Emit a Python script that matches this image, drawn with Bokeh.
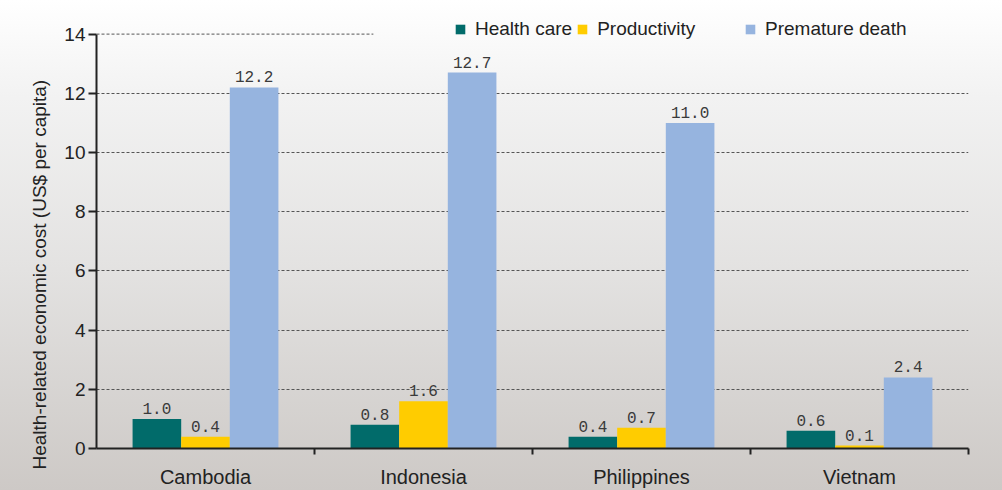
import math
from bokeh.plotting import figure
from bokeh.models import (ColumnDataSource, Range1d, FixedTicker, LabelSet, Title,
                          Legend, LegendItem)
from bokeh.core.properties import value
from bokeh.embed import file_html
from bokeh.resources import INLINE

# Health-related economic cost per capita (US$)
countries = ["Cambodia", "Indonesia", "Philippines", "Vietnam"]
health_care = [1.0, 0.8, 0.4, 0.6]
productivity = [0.4, 1.6, 0.7, 0.1]
premature_death = [12.2, 12.7, 11.0, 2.4]
y_ticks = [0, 2, 4, 6, 8, 10, 12, 14]

series = [
    ("Health care", health_care, "#016B6A", -1),
    ("Productivity", productivity, "#FFCC00", 0),
    ("Premature death", premature_death, "#96B4DF", 1),
]

FONT = "Liberation Sans"
BAR_W = 0.223
centers = [i + 0.5 for i in range(len(countries))]

# the frame reaches the top edge so the legend can sit above the last gridline
Y_MAX = y_ticks[-1]
Y_TOP = Y_MAX * 453 / 419

p = figure(width=1002, height=490, output_backend="svg", toolbar_location=None,
           x_range=Range1d(0, len(countries)), y_range=Range1d(0, Y_TOP),
           min_border_left=96, min_border_right=34, min_border_top=0,
           min_border_bottom=37)
p.outline_line_color = None
p.background_fill_alpha = 0
p.border_fill_alpha = 0
p.styles = {"background": "linear-gradient(to bottom, #ffffff 0%, #f2f2f2 20%, "
                          "#e3e2e1 55%, #cdc9c6 100%)"}

renderers = {}
for name, vals, color, k in series:
    src = ColumnDataSource(dict(
        x=[c + k * BAR_W for c in centers],
        top=vals,
        label=[f"{v:.1f}" for v in vals],
    ))
    r = p.vbar(x="x", top="top", width=BAR_W, source=src, fill_color=color,
               line_color=None)
    renderers[name] = r
    p.add_layout(LabelSet(x="x", y="top", text="label", source=src,
                          text_align="center", text_baseline="bottom",
                          y_offset=5, text_font=value("Liberation Mono"),
                          text_font_size="16px", text_color="#3a3a3a"))

# grid
p.xgrid.visible = False
p.ygrid.ticker = FixedTicker(ticks=y_ticks[1:-1])
p.ygrid.grid_line_color = "#555555"
p.ygrid.grid_line_dash = "3 2"
p.ygrid.grid_line_width = 1
# top gridline stops short where the legend sits
p.segment(x0=[0], y0=[Y_MAX], x1=[1.27], y1=[Y_MAX],
          line_color="#555555", line_dash="3 2", line_width=1)

# y axis
ya = p.yaxis[0]
ya.ticker = FixedTicker(ticks=y_ticks)
ya.bounds = (0, Y_MAX)
ya.axis_line_width = 2
ya.axis_line_color = "#222222"
ya.major_tick_line_color = "#222222"
ya.major_tick_line_width = 2
ya.major_tick_out = 8
ya.major_tick_in = 0
ya.minor_tick_line_color = None
ya.major_label_text_font = FONT
ya.major_label_text_font_size = "19px"
ya.major_label_text_color = "#222222"
ya.major_label_standoff = 3

# x axis: labels at group centres, ticks at group boundaries
xa = p.xaxis[0]
xa.ticker = FixedTicker(ticks=centers, minor_ticks=list(range(1, len(countries) + 1)))
xa.major_label_overrides = {c: n for c, n in zip(centers, countries)}
xa.axis_line_width = 2
xa.axis_line_color = "#222222"
xa.major_tick_line_color = None
xa.major_tick_out = 0
xa.major_tick_in = 0
xa.minor_tick_line_color = "#222222"
xa.minor_tick_line_width = 2
xa.minor_tick_out = 6
xa.minor_tick_in = 0
xa.major_label_text_font = FONT
xa.major_label_text_font_size = "20px"
xa.major_label_text_color = "#222222"
xa.major_label_standoff = 11

# y axis title, starting just below the x axis line
p.add_layout(Title(text="Health-related economic cost (US$ per capita)",
                   align="left", offset=-21, vertical_align="middle",
                   text_font=FONT, text_font_size="19px", text_font_style="normal",
                   text_color="#222222", standoff=22), "left")

# legends
def make_legend(names, loc):
    lg = Legend(items=[LegendItem(label=n, renderers=[renderers[n]]) for n in names],
                location=loc, orientation="horizontal", glyph_width=12,
                glyph_height=12, label_standoff=9, spacing=4, padding=0, margin=0,
                label_text_font=FONT, label_text_font_size="19px",
                label_text_color="#222222", background_fill_alpha=0,
                border_line_alpha=0)
    p.add_layout(lg)

make_legend(["Health care", "Productivity"], (358, 408))
make_legend(["Premature death"], (648, 408))

open("out.html", "w").write(file_html(p, INLINE))
